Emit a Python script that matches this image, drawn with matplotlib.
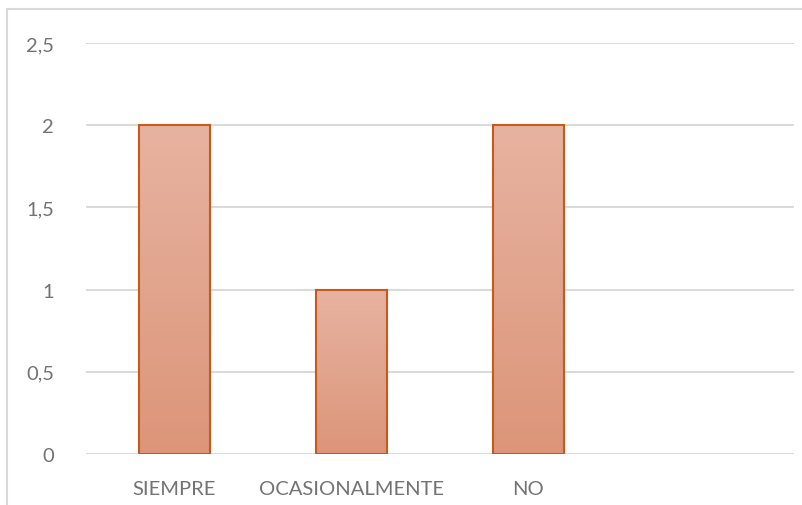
import matplotlib
matplotlib.use("Agg")
import matplotlib.pyplot as plt
import numpy as np
from matplotlib.colors import LinearSegmentedColormap
from matplotlib.patches import Rectangle

categories = ["SIEMPRE", "OCASIONALMENTE", "NO", ""]
values = [2, 1, 2, 0]
y_ticks = [0, 0.5, 1, 1.5, 2, 2.5]
y_tick_labels = ["0", "0,5", "1", "1,5", "2", "2,5"]

plt.rcParams["font.family"] = ["Lato", "DejaVu Sans"]

W, H = 803, 506
fig = plt.figure(figsize=(W / 100, H / 100), dpi=100)
fig.patch.set_facecolor("white")

# chart frame (runs past the right and bottom edges of the image)
fig.patches.append(Rectangle((7.5 / W, -0.1), 1.2, 1.1 - 10 / H, transform=fig.transFigure,
                             fill=False, edgecolor="#d9d9d9", linewidth=1.5))

left, right, top, bottom = 86, 794, 44, 455
ax = fig.add_axes([left / W, 1 - bottom / H, (right - left) / W, (bottom - top) / H])

for s in ax.spines.values():
    s.set_visible(False)

for t in y_ticks:
    ax.axhline(t, color="#d9d9d9", linewidth=1.4, zorder=0)

cmap = LinearSegmentedColormap.from_list("bar", ["#dc9579", "#e7b3a1"])
grad = np.linspace(0, 1, 256).reshape(-1, 1)
bar_w = 0.4
bars = ax.bar(range(len(categories)), values, width=bar_w, color="none",
              edgecolor="#c55a1a", linewidth=1.5, zorder=3)
for b in bars:
    h = b.get_height()
    if h <= 0:
        b.set_visible(False)
        continue
    x0 = b.get_x()
    im = ax.imshow(grad, cmap=cmap, origin="lower", aspect="auto",
                   extent=[x0, x0 + bar_w, 0, h], zorder=2)
    im.set_clip_path(b)
ax.set_xlim(-0.5, len(categories) - 0.5)
ax.set_ylim(0, 2.5)

ax.set_yticks(y_ticks)
ax.set_yticklabels(y_tick_labels)
ax.set_xticks(range(len(categories)))
ax.set_xticklabels(categories)
ax.tick_params(axis="y", length=0, pad=23, labelsize=14.5, labelcolor="#737373")
ax.tick_params(axis="x", length=0, pad=19, labelsize=14.5, labelcolor="#737373")

fig.savefig("out.png", dpi=100, facecolor="white")
